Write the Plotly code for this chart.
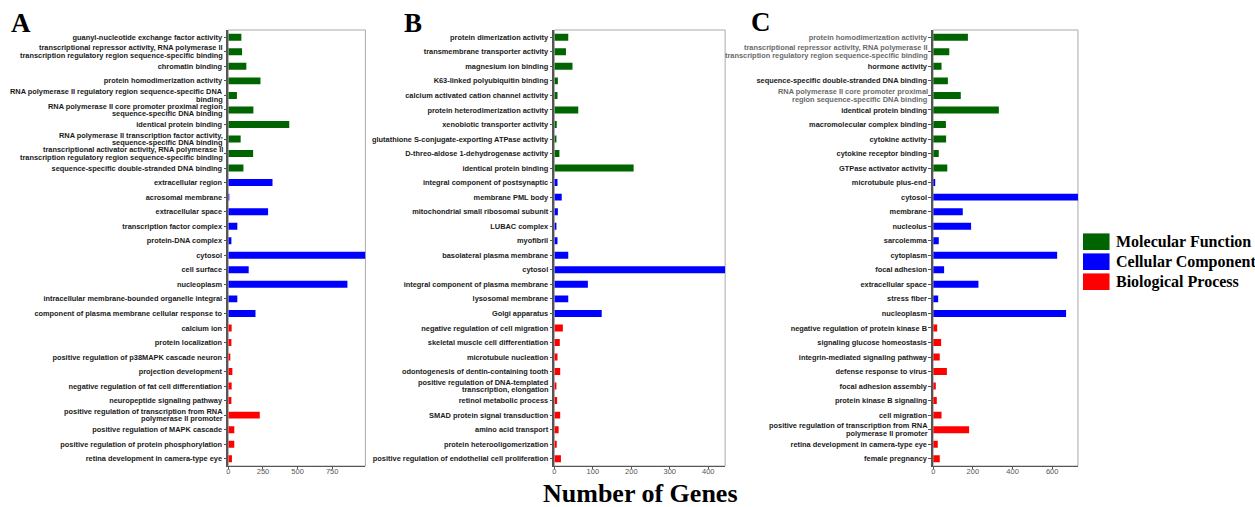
import plotly.graph_objects as go

# ---------------- data ----------------
GROUPS = ["Molecular Function", "Cellular Component", "Biological Process"]
GROUP_COLORS = ["#006400", "#0000FF", "#FF0000"]

a_labels = [
    "guanyl-nucleotide exchange factor activity",
    "transcriptional repressor activity, RNA polymerase II<br>transcription regulatory region sequence-specific binding",
    "chromatin binding",
    "protein homodimerization activity",
    "RNA polymerase II regulatory region sequence-specific DNA<br>binding",
    "RNA polymerase II core promoter proximal region<br>sequence-specific DNA binding",
    "identical protein binding",
    "RNA polymerase II transcription factor activity,<br>sequence-specific DNA binding",
    "transcriptional activator activity, RNA polymerase II<br>transcription regulatory region sequence-specific binding",
    "sequence-specific double-stranded DNA binding",
    "extracellular region",
    "acrosomal membrane",
    "extracellular space",
    "transcription factor complex",
    "protein-DNA complex",
    "cytosol",
    "cell surface",
    "nucleoplasm",
    "intracellular membrane-bounded organelle integral",
    "component of plasma membrane cellular response to",
    "calcium ion",
    "protein localization",
    "positive regulation of p38MAPK cascade neuron",
    "projection development",
    "negative regulation of fat cell differentiation",
    "neuropeptide signaling pathway",
    "positive regulation of transcription from RNA<br>polymerase II promoter",
    "positive regulation of MAPK cascade",
    "positive regulation of protein phosphorylation",
    "retina development in camera-type eye",
]
a_values = [94, 99, 130, 232, 62, 181, 440, 89, 179, 109,
            319, 7, 287, 65, 22, 990, 147, 860, 65, 196,
            24, 22, 14, 29, 24, 22, 227, 43, 43, 26]
a_groups = [0] * 10 + [1] * 10 + [2] * 10

b_labels = [
    "protein dimerization activity",
    "transmembrane transporter activity",
    "magnesium ion binding",
    "K63-linked polyubiquitin binding",
    "calcium activated cation channel activity",
    "protein heterodimerization activity",
    "xenobiotic transporter activity",
    "glutathione S-conjugate-exporting ATPase activity",
    "D-threo-aldose 1-dehydrogenase activity",
    "identical protein binding",
    "integral component of postsynaptic",
    "membrane PML body",
    "mitochondrial small ribosomal subunit",
    "LUBAC complex",
    "myofibril",
    "basolateral plasma membrane",
    "cytosol",
    "integral component of plasma membrane",
    "lysosomal membrane",
    "Golgi apparatus",
    "negative regulation of cell migration",
    "skeletal muscle cell differentiation",
    "microtubule nucleation",
    "odontogenesis of dentin-containing tooth",
    "positive regulation of DNA-templated<br>transcription, elongation",
    "retinol metabolic process",
    "SMAD protein signal transduction",
    "amino acid transport",
    "protein heterooligomerization",
    "positive regulation of endothelial cell proliferation",
]
b_values = [36, 30, 47, 9, 8, 62, 6, 4, 13, 206,
            8, 19, 9, 4, 8, 36, 444, 87, 36, 123,
            22, 14, 8, 15, 5, 7, 15, 11, 6, 17]
b_groups = [0] * 10 + [1] * 10 + [2] * 10

c_labels = [
    "protein homodimerization activity",
    "transcriptional repressor activity, RNA polymerase II<br>transcription regulatory region sequence-specific binding",
    "hormone activity",
    "sequence-specific double-stranded DNA binding",
    "RNA polymerase II core promoter proximal<br>region sequence-specific DNA binding",
    "identical protein binding",
    "macromolecular complex binding",
    "cytokine activity",
    "cytokine receptor binding",
    "GTPase activator activity",
    "microtubule plus-end",
    "cytosol",
    "membrane",
    "nucleolus",
    "sarcolemma",
    "cytoplasm",
    "focal adhesion",
    "extracellular space",
    "stress fiber",
    "nucleoplasm",
    "negative regulation of protein kinase B",
    "signaling glucose homeostasis",
    "integrin-mediated signaling pathway",
    "defense response to virus",
    "focal adhesion assembly",
    "protein kinase B signaling",
    "cell migration",
    "positive regulation of transcription from RNA<br>polymerase II promoter",
    "retina development in camera-type eye",
    "female pregnancy",
]
c_values = [175, 81, 42, 74, 139, 331, 64, 65, 28, 71,
            10, 730, 149, 191, 28, 625, 55, 228, 25, 670,
            20, 40, 33, 69, 13, 18, 42, 181, 23, 33]
c_groups = [0] * 10 + [1] * 10 + [2] * 10
c_gray_labels = [0, 1, 4]  # indices of labels drawn in grey

a_xticks = [0, 250, 500, 750]
b_xticks = [0, 100, 200, 300, 400]
c_xticks = [0, 200, 400, 600]
x_ranges = [[0, 990], [0, 444], [0, 730]]

panel_letters = ["A", "B", "C"]

# ---------------- layout helpers ----------------
W, H = 1255, 507


def fx(p):
    return p / W


def fy(p):
    return 1 - p / H


x_domains = [(226.7, 364.0), (553.3, 724.3), (932.7, 1077.7)]
y_top, y_bot = 30.0, 466.0

LABEL_FONT = dict(family="Liberation Sans, Arial", size=7.4, color="#1a1a1a", weight="bold")
GRAY = "#6a6a6a"
LINE_STEP = 7.6  # pixel distance between lines of a wrapped label

fig = go.Figure()

panels = [
    (a_labels, a_values, a_groups, a_xticks, []),
    (b_labels, b_values, b_groups, b_xticks, []),
    (c_labels, c_values, c_groups, c_xticks, c_gray_labels),
]

for i, (labels, values, groups, xticks, grays) in enumerate(panels):
    sfx = "" if i == 0 else str(i + 1)
    keys = [f"{i}_{j}" for j in range(len(labels))]
    for g in range(3):
        ys = [k for k, gg in zip(keys, groups) if gg == g]
        xs = [v for v, gg in zip(values, groups) if gg == g]
        fig.add_trace(go.Bar(
            x=xs, y=ys, orientation="h",
            marker=dict(color=GROUP_COLORS[g], line=dict(width=0)),
            width=0.48, showlegend=False,
            xaxis="x" + sfx, yaxis="y" + sfx,
            hovertemplate="%{x}<extra></extra>",
        ))
    ticktext = []
    for j, lbl in enumerate(labels):
        parts = lbl.split("<br>")
        color = GRAY if j in grays else LABEL_FONT["color"]
        if len(parts) == 1:
            ticktext.append(lbl if j not in grays else f'<span style="color:{GRAY}">{lbl}</span>')
        else:
            ticktext.append("")
            n = len(parts)
            for k, part in enumerate(parts):
                shift = ((n - 1) / 2 - k) * LINE_STEP
                fig.add_annotation(
                    x=0, xref=f"x{sfx} domain", y=keys[j], yref="y" + sfx,
                    text=part, showarrow=False, xanchor="right", yanchor="middle",
                    xshift=-4, yshift=shift, borderpad=0,
                    font=dict(LABEL_FONT, color=color),
                )
    x0, x1 = x_domains[i]
    fig.update_layout(**{
        "xaxis" + sfx: dict(
            domain=[fx(x0), fx(x1)], anchor="y" + sfx,
            range=x_ranges[i], tickvals=xticks,
            showgrid=False, zeroline=False,
            showline=True, linecolor="#555", linewidth=1,
            ticks="outside", ticklen=2, tickcolor="#555",
            ticklabelstandoff=-4,
            tickfont=dict(family="Liberation Sans, Arial", size=7.5, color="#555"),
            fixedrange=True,
        ),
        "yaxis" + sfx: dict(
            domain=[fy(y_bot), fy(y_top)], anchor="x" + sfx,
            type="category", categoryorder="array", categoryarray=keys,
            tickmode="array", tickvals=keys, ticktext=ticktext,
            autorange="reversed",
            showgrid=False, zeroline=False,
            showline=True, linecolor="#555", linewidth=1.5,
            ticks="outside", ticklen=3, tickcolor="#555",
            tickfont=LABEL_FONT,
            fixedrange=True,
        ),
    })
    # light frame around the plotting area
    fig.add_shape(type="rect", xref=f"x{sfx} domain", yref=f"y{sfx} domain",
                  x0=0, x1=1, y0=0, y1=1, line=dict(color="#aaaaaa", width=1),
                  layer="below")

# panel letters
letter_pos = [(19.5, 23), (412, 23), (760.7, 22)]
for letter, (lx, ly) in zip(panel_letters, letter_pos):
    fig.add_annotation(x=fx(lx), y=fy(ly), xref="paper", yref="paper",
                       text=f"<b>{letter}</b>", showarrow=False,
                       font=dict(family="Liberation Serif, Times New Roman", size=27, color="#000"),
                       xanchor="center", yanchor="middle")

# common x title
fig.add_annotation(x=fx(640), y=fy(493), xref="paper", yref="paper",
                   text="<b>Number of Genes</b>", showarrow=False,
                   font=dict(family="Liberation Serif, Times New Roman", size=26, color="#000"),
                   xanchor="center", yanchor="middle")

# legend drawn as swatches + text
leg_rows = [241.7, 261.7, 281.7]
for g, ly in enumerate(leg_rows):
    fig.add_shape(type="rect", xref="paper", yref="paper",
                  x0=fx(1082.7), x1=fx(1109.3), y0=fy(ly + 8.3), y1=fy(ly - 8.3),
                  fillcolor=GROUP_COLORS[g], line=dict(width=0))
    fig.add_annotation(x=fx(1114), y=fy(ly), xref="paper", yref="paper",
                       text=f"<b>{GROUPS[g]}</b>", showarrow=False,
                       font=dict(family="Liberation Serif, Times New Roman", size=16, color="#000"),
                       xanchor="left", yanchor="middle")

fig.update_layout(
    width=W, height=H,
    margin=dict(l=0, r=0, t=0, b=0),
    paper_bgcolor="white", plot_bgcolor="white",
    barmode="overlay",
    showlegend=False,
)

fig.write_html("out.html", config={"displayModeBar": False},
               post_script="document.body.style.margin='0';")
